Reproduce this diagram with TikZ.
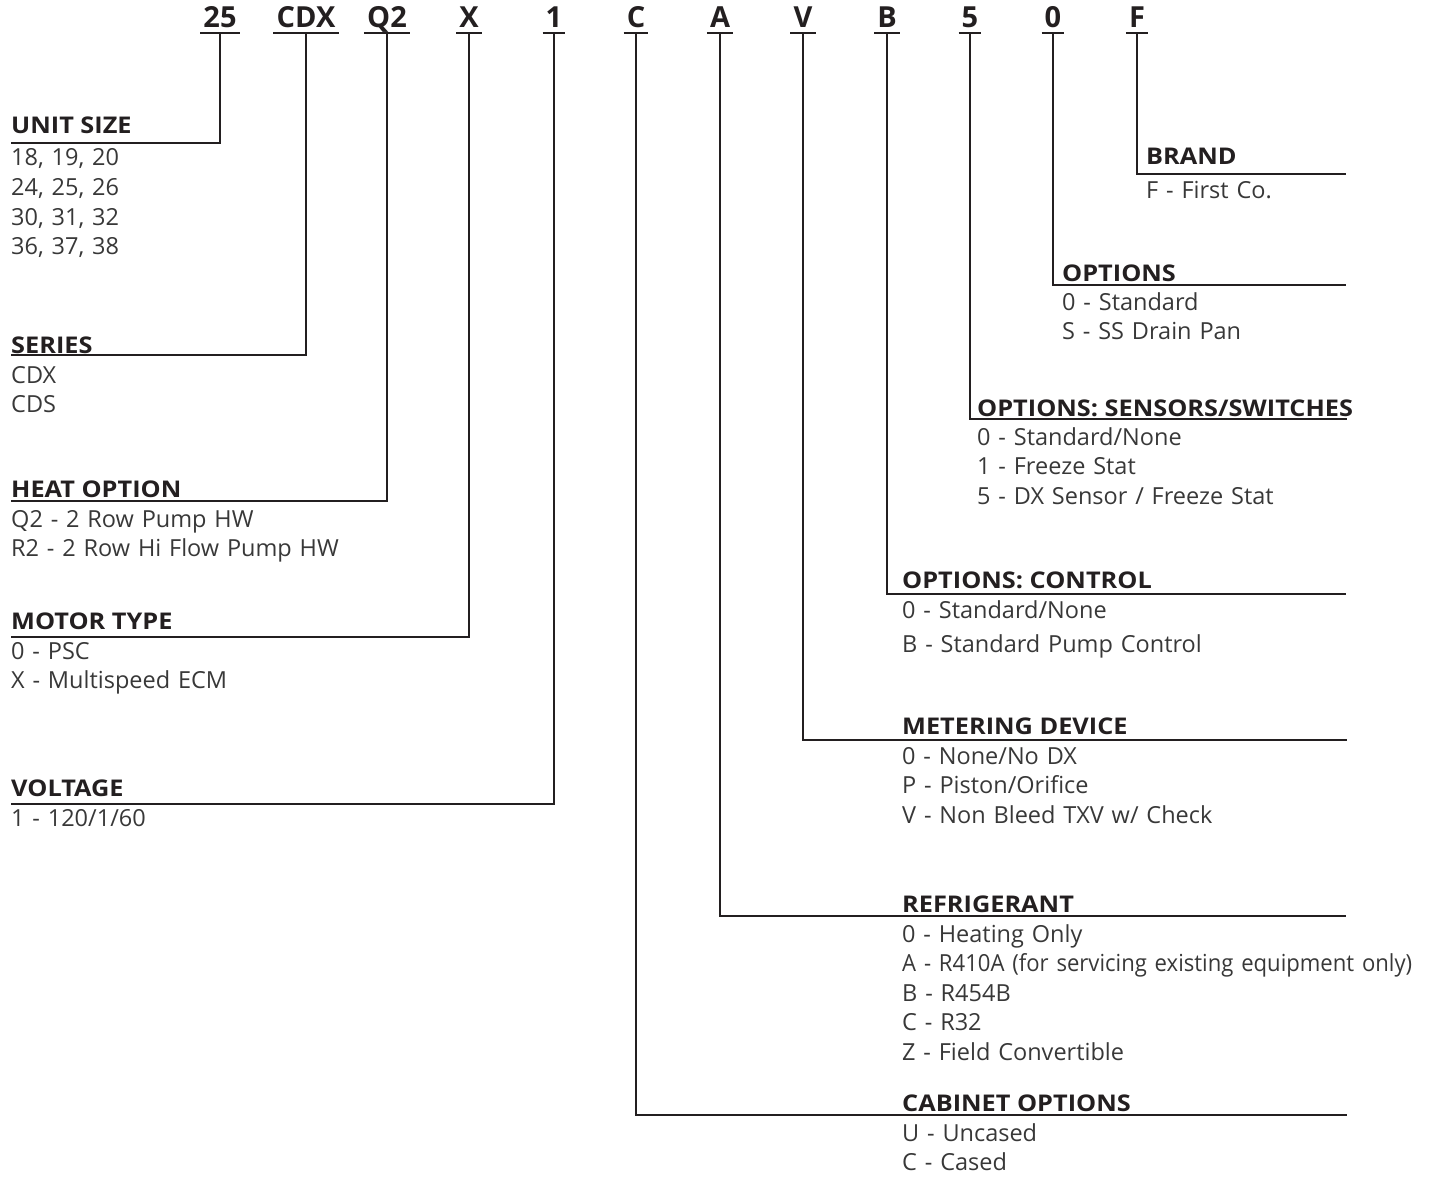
\documentclass[tikz,border=0pt]{standalone}
\usepackage{fontspec}
\setmainfont{Open Sans}
\newfontfamily\headfont{Open Sans}[FakeStretch=1.1]
\newfontfamily\narrowfont{Open Sans}[FakeStretch=0.94]
\usetikzlibrary{positioning,calc}

\definecolor{inkdark}{HTML}{231F20}
\definecolor{inkbody}{HTML}{383838}

\begin{document}
\begin{tikzpicture}[
      x=1pt,y=-1pt,
      every node/.style={inner sep=0pt,anchor=base west},
      code/.style={font=\fontsize{29}{32}\selectfont\bfseries,text=inkdark,anchor=base},
      head/.style={font=\headfont\fontsize{23}{26}\selectfont\bfseries,text=inkdark},
      body/.style={font=\fontsize{23.5}{29.6}\selectfont,text=inkbody,text width=540pt,align=left},
      leader/.style={draw=inkdark,line width=2.8pt},
      underl/.style={draw=inkdark,line width=2.4pt}
    ]
      \useasboundingbox (0,0) rectangle (1432,1177);

      % model number across the top
      \foreach \txt/\nm/\x in {25/c25/220,CDX/ccdx/306,Q2/cq2/387,X/cx/469,1/cone/554,
                               C/cc/636,A/ca/720,V/cv/803,B/cb/887,5/cfive/970,0/czero/1053,F/cf/1137}
        \node[code] (\nm) at (\x,28) {\txt};
      \foreach \nm in {c25,ccdx,cq2,cx,cone,cc,ca,cv,cb,cfive,czero,cf}
        \draw[underl] ([shift={(-3pt,-5pt)}]\nm.base west) -- ([shift={(3pt,-5pt)}]\nm.base east);

      % left column
      \node[head] (hunit) at (11,134) {UNIT SIZE};
      \node[body] (bunit) at (11,166) {18, 19, 20\\24, 25, 26\\30, 31, 32\\36, 37, 38};
      \node[head] (hseries) at (11,353) {SERIES};
      \node[body] (bseries) at (11,383) {CDX\\CDS};
      \node[head] (hheat) at (11,497) {HEAT OPTION};
      \node[body] (bheat) at (11,527) {Q2 - 2 Row Pump HW\\R2 - 2 Row Hi Flow Pump HW};
      \node[head] (hmotor) at (11,629) {MOTOR TYPE};
      \node[body] (bmotor) at (11,659) {0 - PSC\\X - Multispeed ECM};
      \node[head] (hvolt) at (11,796) {VOLTAGE};
      \node[body] (bvolt) at (11,826) {1 - 120/1/60};

      % right column
      \node[head] (hbrand) at (1146,165) {BRAND};
      \node[body] (bbrand) at (1146,199) {F - First Co.};
      \node[head] (hopts) at (1062,281) {OPTIONS};
      \node[body] (bopts) at (1062,310) {0 - Standard\\S - SS Drain Pan};
      \node[head] (hsens) at (977,416) {OPTIONS: SENSORS/SWITCHES};
      \node[body] (bsens) at (977,445) {0 - Standard/None\\1 - Freeze Stat\\5 - DX Sensor / Freeze Stat};
      \node[head] (hctrl) at (902,588) {OPTIONS: CONTROL};
      \node[body] (bctrl) at (902,618) {0 - Standard/None\\[4.4pt]B - Standard Pump Control};
      \node[head] (hmeter) at (902,734) {METERING DEVICE};
      \node[body] (bmeter) at (902,764) {0 - None/No DX\\P - Piston/Orifice\\V - Non Bleed TXV w/ Check};
      \node[head] (hrefr) at (902,912) {REFRIGERANT};
      \node[body] (brefr) at (902,942) {0 - Heating Only\\{\narrowfont A - R410A (for servicing existing equipment only)}\\B - R454B\\C - R32\\Z - Field Convertible};
      \node[head] (hcab) at (902,1111) {CABINET OPTIONS};
      \node[body] (bcab) at (902,1141) {U - Uncased\\C - Cased};

      % line ends
      \coordinate (lunit) at (11,143);
      \coordinate (lseries) at (11,355);
      \coordinate (lheat) at (11,501);
      \coordinate (lmotor) at (11,637);
      \coordinate (lvolt) at (11,804);
      \coordinate (rbrand) at (1346,174);
      \coordinate (ropts) at (1346,285);
      \coordinate (rsens) at (1347,419);
      \coordinate (rctrl) at (1346,594);
      \coordinate (rmeter) at (1347,740);
      \coordinate (rrefr) at (1346,916);
      \coordinate (rcab) at (1347,1115);

      % leaders
      \draw[leader] ([yshift=-5pt]c25.base) |- (lunit);
      \draw[leader] ([yshift=-5pt]ccdx.base) |- (lseries);
      \draw[leader] ([yshift=-5pt]cq2.base) |- (lheat);
      \draw[leader] ([yshift=-5pt]cx.base) |- (lmotor);
      \draw[leader] ([yshift=-5pt]cone.base) |- (lvolt);
      \draw[leader] ([yshift=-5pt]cf.base) |- (rbrand);
      \draw[leader] ([yshift=-5pt]czero.base) |- (ropts);
      \draw[leader] ([yshift=-5pt]cfive.base) |- (rsens);
      \draw[leader] ([yshift=-5pt]cb.base) |- (rctrl);
      \draw[leader] ([yshift=-5pt]cv.base) |- (rmeter);
      \draw[leader] ([yshift=-5pt]ca.base) |- (rrefr);
      \draw[leader] ([yshift=-5pt]cc.base) |- (rcab);
    \end{tikzpicture}
\end{document}
